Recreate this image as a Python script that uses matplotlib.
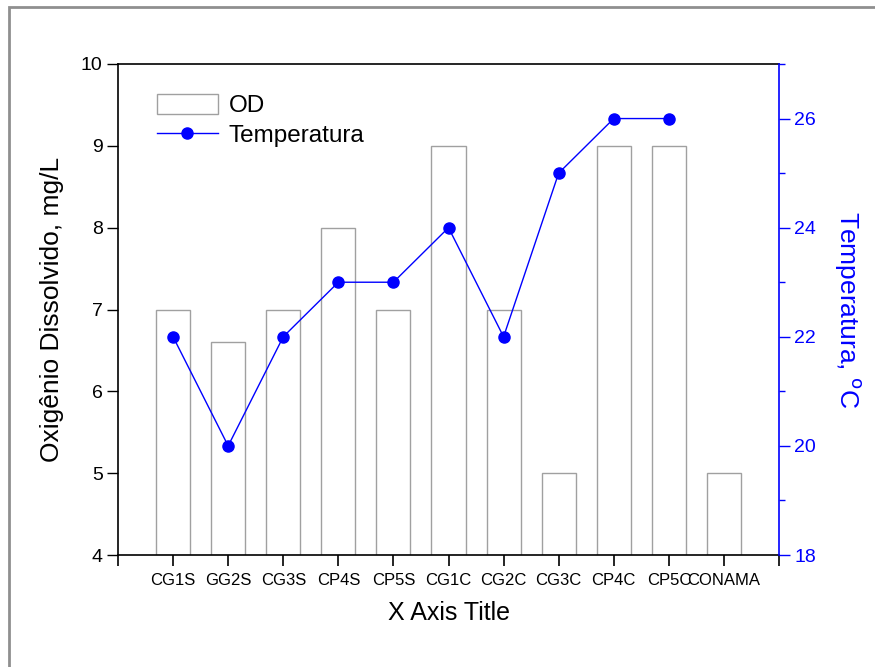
import matplotlib
matplotlib.use('Agg')
import matplotlib.pyplot as plt
from matplotlib.patches import Rectangle
from matplotlib.ticker import MultipleLocator, FixedLocator

plt.rcParams['font.family'] = ['Liberation Sans', 'DejaVu Sans']

# data
sites = ['CG1S', 'GG2S', 'CG3S', 'CP4S', 'CP5S', 'CG1C', 'CG2C', 'CG3C', 'CP4C', 'CP5C', 'CONAMA']
od = [7, 6.6, 7, 8, 7, 9, 7, 5, 9, 9, 5]
temp = [22, 20, 22, 23, 23, 24, 22, 25, 26, 26]

fig = plt.figure(figsize=(8.75, 6.67), dpi=100)
ax = fig.add_axes([118/875, 112/667, 661/875, 491/667])

xpos = list(range(1, len(sites) + 1))
bars = ax.bar(xpos, [v - 4 for v in od], bottom=4, width=0.62, color='white',
              edgecolor='#a0a0a0', linewidth=1, label='OD')
ax.set_xlim(0, 12)
ax.set_ylim(4, 10)
ax.xaxis.set_major_locator(FixedLocator(range(0, 13)))
ax.set_xticklabels([''] + sites + [''], fontsize=12)
ax.yaxis.set_major_locator(MultipleLocator(1))
ax.tick_params(axis='y', direction='out', length=8, width=1, labelsize=14, pad=3)
ax.tick_params(axis='x', direction='out', length=8, width=1.2, pad=5)
ax.set_xlabel('X Axis Title', fontsize=18, labelpad=9)
ax.set_ylabel('Oxigênio Dissolvido, mg/L', fontsize=19, labelpad=12)
for s in ['left', 'bottom', 'top']:
    ax.spines[s].set_linewidth(1.2)
ax.spines['right'].set_visible(False)

ax2 = ax.twinx()
line, = ax2.plot(xpos[:len(temp)], temp, color='blue', lw=1, marker='o',
                 markersize=8, label='Temperatura')
ax2.set_ylim(18, 27)
ax2.yaxis.set_major_locator(MultipleLocator(2))
ax2.yaxis.set_minor_locator(MultipleLocator(1))
ax2.tick_params(axis='y', which='major', direction='out', length=8, width=1,
                colors='blue', labelsize=14, pad=3)
ax2.tick_params(axis='y', which='minor', direction='out', length=4, width=1, colors='blue')
ax2.spines['right'].set_color('blue')
ax2.spines['right'].set_linewidth(1.2)
for s in ['left', 'bottom', 'top']:
    ax2.spines[s].set_visible(False)
ax2.set_ylabel('Temperatura, $^{\\rm o}$C', fontsize=19, color='blue',
               rotation=-90, labelpad=34)

ax.legend([bars, line], ['OD', 'Temperatura'], loc='upper left',
          bbox_to_anchor=(0.044, 0.958), frameon=False, fontsize=17.5,
          handlelength=2.5, handleheight=0.85, handletextpad=0.45,
          labelspacing=0.25, borderaxespad=0)

# page frame around the chart
fig.patches.append(Rectangle((9/875, -0.1), 1.2, 1.1 - 7/667, transform=fig.transFigure,
                             fill=False, edgecolor='#8f8f8f', linewidth=2))

fig.savefig('out.png', dpi=100)
